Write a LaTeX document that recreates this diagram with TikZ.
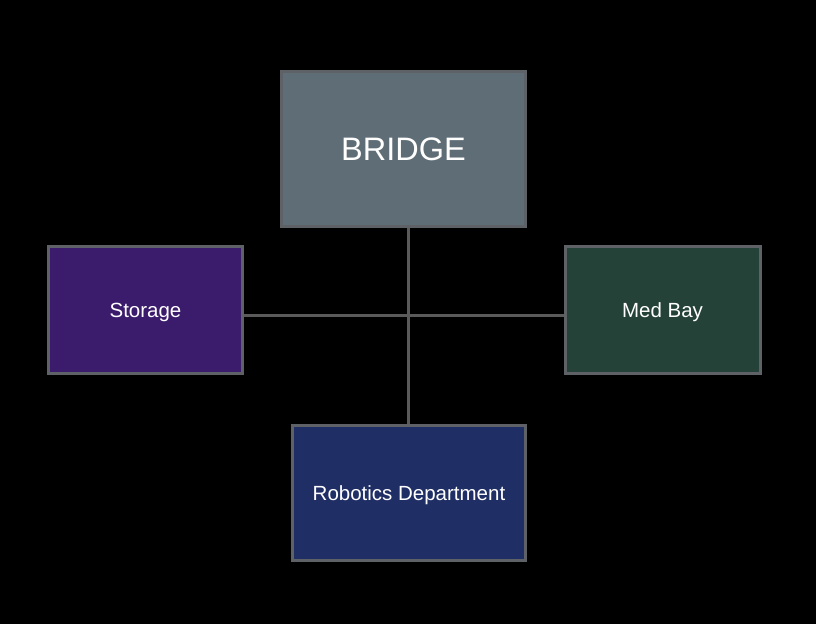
\documentclass[tikz,border=0pt]{standalone}
\usepackage{fontspec}
\setmainfont{Liberation Sans}
\definecolor{bordergray}{HTML}{5E6266}
\definecolor{linegray}{HTML}{5A5A5A}
\definecolor{bridgefill}{HTML}{5F6D76}
\definecolor{storagefill}{HTML}{3B1B6C}
\definecolor{medfill}{HTML}{254238}
\definecolor{robofill}{HTML}{1F2E64}
\tikzset{
  room/.style={draw=bordergray, line width=3pt, text=white, inner sep=0pt, text depth=0pt},
  link/.style={draw=linegray, line width=3pt},
}
\begin{document}
\begin{tikzpicture}[x=1pt,y=-1pt]
\fill[black] (0,0) rectangle (816,624);
\useasboundingbox (0,0) rectangle (816,624);
\node[room, fill=bridgefill, minimum width=244pt, minimum height=155pt, font=\fontsize{32.5}{38}\selectfont] (bridge) at (403.5,149) {BRIDGE};
\node[room, fill=storagefill, minimum width=194pt, minimum height=127pt, font=\fontsize{20.5}{24}\selectfont] (storage) at (145.5,310) {Storage};
\node[room, fill=medfill, minimum width=195pt, minimum height=127pt, font=\fontsize{20.5}{24}\selectfont] (medbay) at (662.5,310) {Med Bay};
\node[room, fill=robofill, minimum width=233pt, minimum height=135pt, font=\fontsize{20.5}{24}\selectfont] (robo) at (409,493) {Robotics Department};
\coordinate (hub) at (408,315);
\draw[link] (bridge.south -| hub) -- (robo.north -| hub);
\draw[link] (storage.east |- hub) -- (medbay.west |- hub);
\end{tikzpicture}
\end{document}
